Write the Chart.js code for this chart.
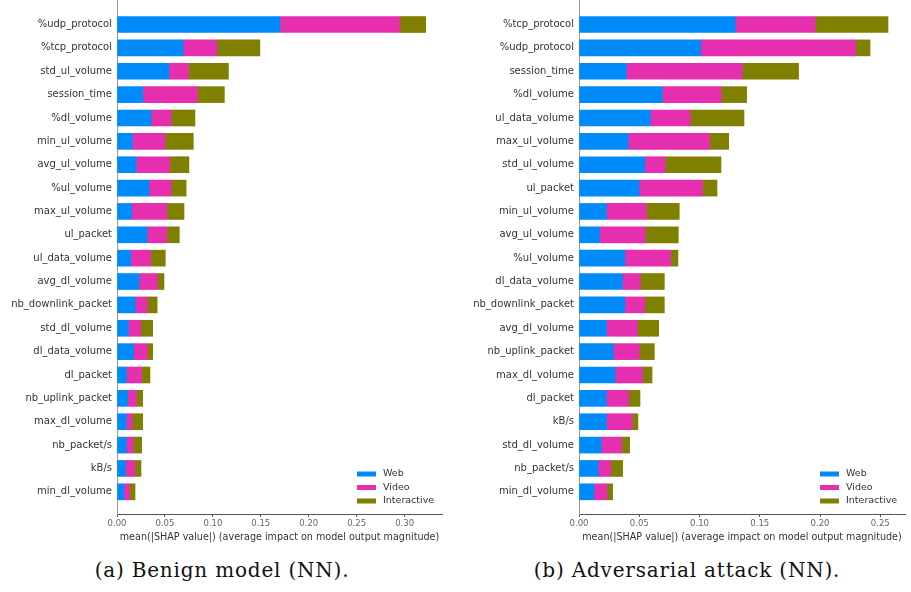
<!DOCTYPE html>
<html>
  <head>
    <script src="https://cdn.jsdelivr.net/npm/chart.js"></script>
    <style>
      body {
        margin: 0;
        padding: 0;
        background: white;
        width: 911px;
        height: 592px;
        position: relative;
        overflow: hidden;
      }
      #left { position: absolute; left: 0; top: 0; }
      #right { position: absolute; left: 460px; top: 0; }
      .caption {
        position: absolute;
        top: 558px;
        font-family: "DejaVu Serif", serif;
        font-size: 20px;
        letter-spacing: 0.8px;
        color: #111;
        white-space: nowrap;
        transform: translateX(-50%);
      }
    </style>
  </head>
  <body>
    <canvas id="left" width="455" height="545"></canvas>
    <canvas id="right" width="451" height="545"></canvas>
    <div class="caption" style="left: 222px;">(a) Benign model (NN).</div>
    <div class="caption" style="left: 687px;">(b) Adversarial attack (NN).</div>

    <script>
      const classNames = ['Web', 'Video', 'Interactive'];
      const classColors = ['#008bfb', '#e62fae', '#808000'];
      const xTitle = 'mean(|SHAP value|) (average impact on model output magnitude)';

      // (a) benign model
      const benignFeatures = ['%udp_protocol', '%tcp_protocol', 'std_ul_volume', 'session_time', '%dl_volume',
        'min_ul_volume', 'avg_ul_volume', '%ul_volume', 'max_ul_volume', 'ul_packet', 'ul_data_volume',
        'avg_dl_volume', 'nb_downlink_packet', 'std_dl_volume', 'dl_data_volume', 'dl_packet',
        'nb_uplink_packet', 'max_dl_volume', 'nb_packet/s', 'kB/s', 'min_dl_volume'];
      const benignWeb = [0.170, 0.069, 0.054, 0.027, 0.0355, 0.016, 0.020, 0.0334, 0.0153, 0.0313, 0.0143,
        0.023, 0.019, 0.0118, 0.0174, 0.0097, 0.0111, 0.0097, 0.0097, 0.0087, 0.007];
      const benignVideo = [0.125, 0.035, 0.0205, 0.057, 0.0208, 0.034, 0.035, 0.023, 0.0368, 0.0205, 0.0208,
        0.019, 0.0125, 0.0129, 0.0142, 0.016, 0.0091, 0.0063, 0.0073, 0.0097, 0.0059];
      const benignInteractive = [0.027, 0.045, 0.0417, 0.028, 0.025, 0.0296, 0.020, 0.0157, 0.0178, 0.0132, 0.0153,
        0.007, 0.0104, 0.0125, 0.0056, 0.0087, 0.0066, 0.0108, 0.0087, 0.0066, 0.0059];
      const benignTicks = [0, 0.05, 0.10, 0.15, 0.20, 0.25, 0.30];

      // (b) adversarial attack
      const attackFeatures = ['%tcp_protocol', '%udp_protocol', 'session_time', '%dl_volume', 'ul_data_volume',
        'max_ul_volume', 'std_ul_volume', 'ul_packet', 'min_ul_volume', 'avg_ul_volume', '%ul_volume',
        'dl_data_volume', 'nb_downlink_packet', 'avg_dl_volume', 'nb_uplink_packet', 'max_dl_volume',
        'dl_packet', 'kB/s', 'std_dl_volume', 'nb_packet/s', 'min_dl_volume'];
      const attackWeb = [0.1297, 0.101, 0.0393, 0.0691, 0.0592, 0.0407, 0.0545, 0.0498, 0.0227, 0.0171, 0.0379,
        0.036, 0.0379, 0.0227, 0.0285, 0.0299, 0.0227, 0.0227, 0.0183, 0.016, 0.0124];
      const attackVideo = [0.0664, 0.1284, 0.0962, 0.049, 0.0332, 0.0677, 0.0171, 0.0528, 0.0332, 0.0379, 0.0381,
        0.0149, 0.0166, 0.0257, 0.0215, 0.0229, 0.0185, 0.0215, 0.0171, 0.0103, 0.0108];
      const attackInteractive = [0.0603, 0.0121, 0.0467, 0.021, 0.0445, 0.0158, 0.0462, 0.0119, 0.0273, 0.0274, 0.0061,
        0.0199, 0.0163, 0.0177, 0.0125, 0.0078, 0.0094, 0.0047, 0.0066, 0.0099, 0.0047];
      const attackTicks = [0, 0.05, 0.10, 0.15, 0.20, 0.25];

      // legend drawn inside the plot, bottom right
      const innerLegend = {
        id: 'innerLegend',
        afterDraw(chart) {
          const ctx = chart.ctx;
          const area = chart.chartArea;
          ctx.save();
          ctx.font = '9.5px "DejaVu Sans"';
          ctx.textBaseline = 'middle';
          chart.data.datasets.forEach((ds, i) => {
            const y = area.bottom - 40 + i * 13.5;
            const x = area.right - 85;
            ctx.fillStyle = ds.backgroundColor;
            ctx.fillRect(x, y - 2.5, 19, 5);
            ctx.fillStyle = '#333';
            ctx.fillText(ds.label, x + 26, y);
          });
          ctx.restore();
        }
      };

      function makeChart(id, features, series, xMax, xTicks, axisLeft, padRight) {
        const datasets = series.map((vals, k) => ({
          label: classNames[k],
          data: vals.map((v, i) => ({ x: v, y: i })),
          backgroundColor: classColors[k],
          borderWidth: 0,
          barThickness: 16
        }));
        new Chart(document.getElementById(id), {
          type: 'bar',
          data: { datasets: datasets },
          plugins: [innerLegend],
          options: {
            indexAxis: 'y',
            responsive: false,
            animation: false,
            layout: { padding: { top: 0, right: padRight, left: 0, bottom: 0 } },
            plugins: { legend: { display: false }, tooltip: { enabled: false } },
            scales: {
              x: {
                type: 'linear',
                stacked: true,
                min: 0,
                max: xMax,
                afterBuildTicks: (s) => { s.ticks = xTicks.map(v => ({ value: v })); },
                afterFit: (s) => { s.height = 31; },
                border: { color: '#555', width: 1 },
                grid: { display: true, drawOnChartArea: false, drawTicks: true, tickLength: 3, color: '#555' },
                ticks: {
                  padding: 2,
                  color: '#666',
                  font: { family: 'DejaVu Sans', size: 8.5 },
                  callback: (v) => Number(v).toFixed(2)
                },
                title: {
                  display: true,
                  text: xTitle,
                  color: '#333',
                  font: { family: 'DejaVu Sans', size: 9.6 },
                  padding: { top: 0, bottom: 2 }
                }
              },
              y: {
                type: 'linear',
                stacked: true,
                reverse: true,
                offset: false,
                min: -1.05,
                max: 20.95,
                afterBuildTicks: (s) => { s.ticks = features.map((f, i) => ({ value: i })); },
                afterFit: (s) => { s.width = axisLeft; s.paddingTop = 0; s.paddingBottom = 0; },
                border: { color: '#999', width: 1 },
                grid: { display: false, drawTicks: false, offset: false },
                ticks: {
                  padding: 5,
                  color: '#333',
                  font: { family: 'DejaVu Sans', size: 10 },
                  callback: (v) => features[v]
                }
              }
            }
          }
        });
      }

      makeChart('left', benignFeatures, [benignWeb, benignVideo, benignInteractive], 0.339, benignTicks, 117, 13);
      makeChart('right', attackFeatures, [attackWeb, attackVideo, attackInteractive], 0.2705, attackTicks, 119, 6);
    </script>
  </body>
</html>
